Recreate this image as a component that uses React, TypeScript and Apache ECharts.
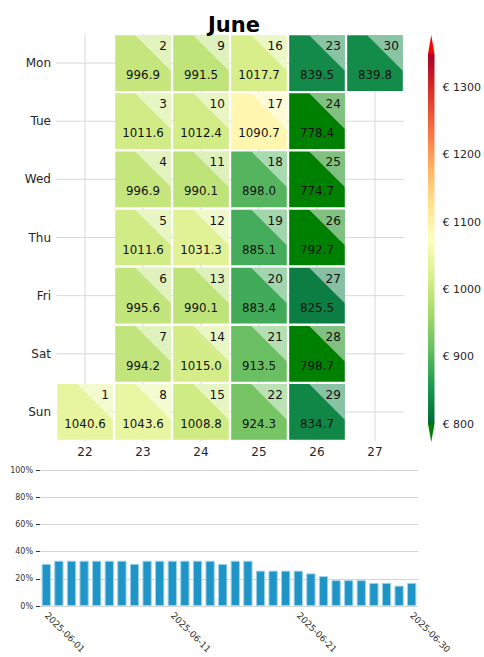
import React, { useEffect, useRef } from "react";
import * as echarts from "echarts";

const monthTitle = "June";
const weekLabels = ["22", "23", "24", "25", "26", "27"];
const weekdayLabels = ["Mon", "Tue", "Wed", "Thu", "Fri", "Sat", "Sun"];
const dayNumbers = [1, 2, 3, 4, 5, 6, 7, 8, 9, 10, 11, 12, 13, 14, 15, 16, 17, 18, 19, 20, 21, 22, 23, 24, 25, 26, 27, 28, 29, 30];
const dailyValues = [
  1040.6, 996.9, 1011.6, 996.9, 1011.6, 995.6, 994.2, 1043.6,
  991.5, 1012.4, 990.1, 1031.3, 990.1, 1015.0, 1008.8,
  1017.7, 1090.7, 898.0, 885.1, 883.4, 913.5, 924.3,
  839.5, 778.4, 774.7, 792.7, 825.5, 798.7, 834.7, 839.8,
];
const shareValues = [
  0.31, 0.333, 0.333, 0.333, 0.333, 0.333, 0.333, 0.31, 0.333, 0.333,
  0.333, 0.333, 0.333, 0.333, 0.31, 0.333, 0.333, 0.26, 0.26, 0.26,
  0.26, 0.24, 0.22, 0.19, 0.19, 0.19, 0.17, 0.17, 0.15, 0.17,
];
const colorbarTicks = [800, 900, 1000, 1100, 1200, 1300];
const shareTicksShown = ["2025-06-01", "2025-06-11", "2025-06-21", "2025-06-30"];

const VMIN = 800;
const VMAX = 1350;
// RdYlGn reversed (low -> high)
const rdylgnR = ["#006837", "#1a9850", "#66bd63", "#a6d96a", "#d9ef8b", "#ffffbf", "#fee08b", "#fdae61", "#f46d43", "#d73027", "#a50026"];
const UNDER = "#008000";
const OVER = "#ff0000";
const FONT = "DejaVu Sans";

function isoWeek(d: Date): number {
  const t = new Date(Date.UTC(d.getUTCFullYear(), d.getUTCMonth(), d.getUTCDate()));
  const dayNum = (t.getUTCDay() + 6) % 7;
  t.setUTCDate(t.getUTCDate() - dayNum + 3);
  const firstThursday = new Date(Date.UTC(t.getUTCFullYear(), 0, 4));
  return 1 + Math.round(((t.getTime() - firstThursday.getTime()) / 86400000 - 3 + ((firstThursday.getUTCDay() + 6) % 7)) / 7);
}

const dateStrings = dayNumbers.map((d) => `2025-06-${String(d).padStart(2, "0")}`);

const cellData = dayNumbers.map((d, i) => {
  const dt = new Date(Date.UTC(2025, 5, d));
  const wd = (dt.getUTCDay() + 6) % 7;
  const wk = weekLabels.indexOf(String(isoWeek(dt)));
  return [wk, wd, dailyValues[i], d];
});

export default function App() {
  const ref = useRef<HTMLDivElement>(null);
  useEffect(() => {
    if (!ref.current) return;
    const chart = echarts.init(ref.current, null, { renderer: "svg" });

    const gridLineData = [
      ...weekLabels.map((_, i) => [i, 0, 0]),
      ...weekdayLabels.map((_, j) => [0, j, 1]),
    ];

    const option: any = {
      animation: false,
      backgroundColor: "#ffffff",
      textStyle: { fontFamily: FONT },
      title: {
        text: monthTitle,
        left: 229,
        top: 9,
        textAlign: "center",
        textStyle: { fontSize: 21, fontWeight: "bold", fontFamily: FONT, color: "#000" },
      },
      visualMap: {
        type: "continuous",
        show: false,
        seriesIndex: 1,
        dimension: 2,
        min: VMIN,
        max: VMAX,
        inRange: { color: rdylgnR },
      },
      grid: [
        { left: 56, top: 34, width: 348, height: 407 },
        { left: 428, top: 54, width: 15.5, height: 370 },
        { left: 40, top: 470, width: 378, height: 136 },
      ],
      xAxis: [
        {
          gridIndex: 0,
          type: "category",
          data: weekLabels,
          axisLine: { show: false },
          axisTick: { show: false },
          splitLine: { show: false },
          axisLabel: { fontSize: 12, color: "#262626", margin: 5, fontFamily: FONT },
        },
        { gridIndex: 1, type: "value", min: 0, max: 1, show: false },
        {
          gridIndex: 2,
          type: "category",
          data: dateStrings,
          axisLine: { show: false },
          axisTick: { show: false },
          axisLabel: {
            interval: (idx: number, val: string) => shareTicksShown.includes(val),
            rotate: -45,
            fontSize: 9,
            color: "#333",
            margin: 8,
            fontFamily: FONT,
          },
        },
      ],
      yAxis: [
        {
          gridIndex: 0,
          type: "category",
          data: weekdayLabels,
          inverse: true,
          axisLine: { show: false },
          axisTick: { show: false },
          splitLine: { show: false },
          axisLabel: { fontSize: 12, color: "#262626", margin: 5, fontFamily: FONT },
        },
        {
          gridIndex: 1,
          type: "value",
          position: "right",
          min: VMIN,
          max: VMAX,
          axisLine: { show: false },
          splitLine: { show: false },
          axisTick: { show: true, length: 4, lineStyle: { color: "#333" }, customValues: colorbarTicks },
          axisLabel: {
            customValues: colorbarTicks,
            formatter: (v: number) => `€ ${v}`,
            fontSize: 11,
            color: "#262626",
            margin: 8,
            fontFamily: FONT,
          },
        },
        {
          gridIndex: 2,
          type: "value",
          min: 0,
          max: 1,
          interval: 0.2,
          axisLine: { show: false },
          axisTick: { show: true, length: 4, lineStyle: { color: "#333" } },
          splitLine: { show: true, lineStyle: { color: "#d4d4d4", width: 1 } },
          axisLabel: {
            formatter: (v: number) => `${Math.round(v * 100)}%`,
            fontSize: 8,
            color: "#333",
            margin: 7,
            fontFamily: FONT,
          },
        },
      ],
      series: [
        {
          type: "custom",
          name: "gridlines",
          xAxisIndex: 0,
          yAxisIndex: 0,
          silent: true,
          data: gridLineData,
          encode: { x: 0, y: 1 },
          renderItem: (params: any, api: any) => {
            const cs = params.coordSys;
            const c = api.coord([api.value(0), api.value(1)]);
            const vertical = api.value(2) === 0;
            const shape = vertical
              ? { x1: c[0], y1: cs.y, x2: c[0], y2: cs.y + cs.height }
              : { x1: cs.x, y1: c[1], x2: cs.x + cs.width, y2: c[1] };
            return { type: "line", shape, style: { stroke: "#d9d9d9", lineWidth: 1 } };
          },
        },
        {
          type: "custom",
          name: "cells",
          xAxisIndex: 0,
          yAxisIndex: 0,
          data: cellData,
          encode: { x: 0, y: 1 },
          renderItem: (params: any, api: any) => {
            const c = api.coord([api.value(0), api.value(1)]);
            const s = api.size([1, 1]);
            const gap = 1.2;
            const x0 = c[0] - s[0] / 2 + gap;
            const y0 = c[1] - s[1] / 2 + gap;
            const w = s[0] - 2 * gap;
            const h = s[1] - 2 * gap;
            const val = api.value(2);
            const color = val < VMIN ? UNDER : val > VMAX ? OVER : api.visual("color");
            const day = api.value(3);
            return {
              type: "group",
              children: [
                { type: "rect", shape: { x: x0, y: y0, width: w, height: h }, style: { fill: color } },
                {
                  type: "polygon",
                  shape: { points: [[x0 + w * 0.36, y0], [x0 + w, y0], [x0 + w, y0 + w * 0.64]] },
                  style: { fill: "rgba(255,255,255,0.5)" },
                },
                {
                  type: "text",
                  style: {
                    text: String(day),
                    x: x0 + w - 4,
                    y: y0 + 11,
                    align: "right",
                    verticalAlign: "middle",
                    fontSize: 12,
                    fontFamily: FONT,
                    fill: "#111",
                  },
                },
                {
                  type: "text",
                  style: {
                    text: Number(val).toFixed(1),
                    x: c[0],
                    y: c[1] + 12,
                    align: "center",
                    verticalAlign: "middle",
                    fontSize: 11.8,
                    fontFamily: FONT,
                    fill: "#111",
                  },
                },
              ],
            };
          },
        },
        {
          type: "custom",
          name: "colorbar",
          xAxisIndex: 1,
          yAxisIndex: 1,
          silent: true,
          data: [[0.5, VMIN]],
          encode: { x: 0, y: 1 },
          renderItem: (params: any, api: any) => {
            const top = api.coord([0, VMAX]);
            const bot = api.coord([1, VMIN]);
            const x0 = top[0];
            const x1 = bot[0];
            const w = x1 - x0;
            const stops = rdylgnR.map((col, i) => ({ offset: i / (rdylgnR.length - 1), color: col }));
            return {
              type: "group",
              children: [
                {
                  type: "rect",
                  shape: { x: x0, y: top[1], width: w, height: bot[1] - top[1] },
                  style: { fill: new echarts.graphic.LinearGradient(0, 1, 0, 0, stops) },
                },
                {
                  type: "polygon",
                  shape: { points: [[x0, top[1]], [x1, top[1]], [(x0 + x1) / 2, top[1] - 19]] },
                  style: { fill: OVER },
                },
                {
                  type: "polygon",
                  shape: { points: [[x0, bot[1]], [x1, bot[1]], [(x0 + x1) / 2, bot[1] + 18]] },
                  style: { fill: UNDER },
                },
              ],
            };
          },
        },
        {
          type: "bar",
          name: "share",
          xAxisIndex: 2,
          yAxisIndex: 2,
          data: shareValues,
          barCategoryGap: "26%",
          itemStyle: { color: "#1f94c7", borderColor: "#9fd2ea", borderWidth: 1 },
        },
      ],
    };
    chart.setOption(option);
    return () => chart.dispose();
  }, []);
  return <div ref={ref} style={{ position: "fixed", left: 0, top: 0, width: 484, height: 657 }} />;
}
